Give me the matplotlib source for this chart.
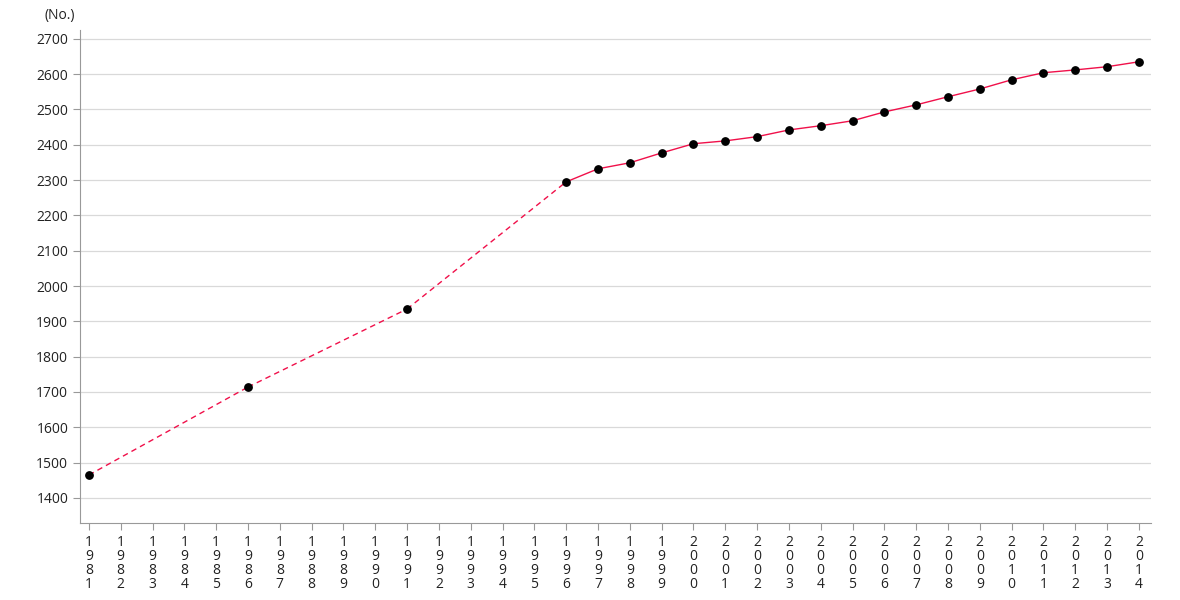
import matplotlib
matplotlib.use('Agg')
import matplotlib.pyplot as plt

plt.rcParams['font.family'] = ['Open Sans', 'DejaVu Sans']

years = [1981, 1986, 1991, 1996, 1997, 1998, 1999, 2000, 2001, 2002, 2003,
         2004, 2005, 2006, 2007, 2008, 2009, 2010, 2011, 2012, 2013, 2014]
values = [1465, 1714, 1935, 2295, 2332, 2349, 2377, 2403, 2411, 2423, 2442,
          2454, 2468, 2493, 2513, 2536, 2558, 2584, 2604, 2612, 2621, 2635]
tick_years = list(range(1981, 2015))
yticks = list(range(1400, 2701, 100))

line_color = '#f0104a'

fig = plt.figure(figsize=(11.8, 6), dpi=100)
ax = fig.add_axes([0.0678, 0.1283, 0.9076, 0.8217])

# dashed where years are missing, solid between consecutive years
for i in range(len(years) - 1):
    gap = years[i + 1] - years[i]
    ax.plot(years[i:i + 2], values[i:i + 2], color=line_color, lw=1,
            ls='--' if gap > 1 else '-', dashes=(4, 3) if gap > 1 else (None, None),
            zorder=2)
ax.scatter(years, values, s=28, color='black', zorder=3)

ax.set_xlim(1980.72, 2014.38)
ax.set_ylim(1329, 2725)
ax.set_xticks(tick_years)
ax.set_xticklabels(['\n'.join(str(y)) for y in tick_years], fontsize=10,
                   linespacing=0.92)
ax.set_yticks(yticks)
ax.set_yticklabels([str(v) for v in yticks], fontsize=10)

ax.grid(axis='y', color='#d9d9d9', lw=0.9)
ax.set_axisbelow(True)
for s in ['top', 'right']:
    ax.spines[s].set_visible(False)
for s in ['left', 'bottom']:
    ax.spines[s].set_color('#999999')
ax.tick_params(colors='#999999', length=5, labelcolor='#222222')

fig.text(0.038, 0.975, '(No.)', fontsize=10, color='#222222', va='center')

fig.savefig('out.png', dpi=100)
